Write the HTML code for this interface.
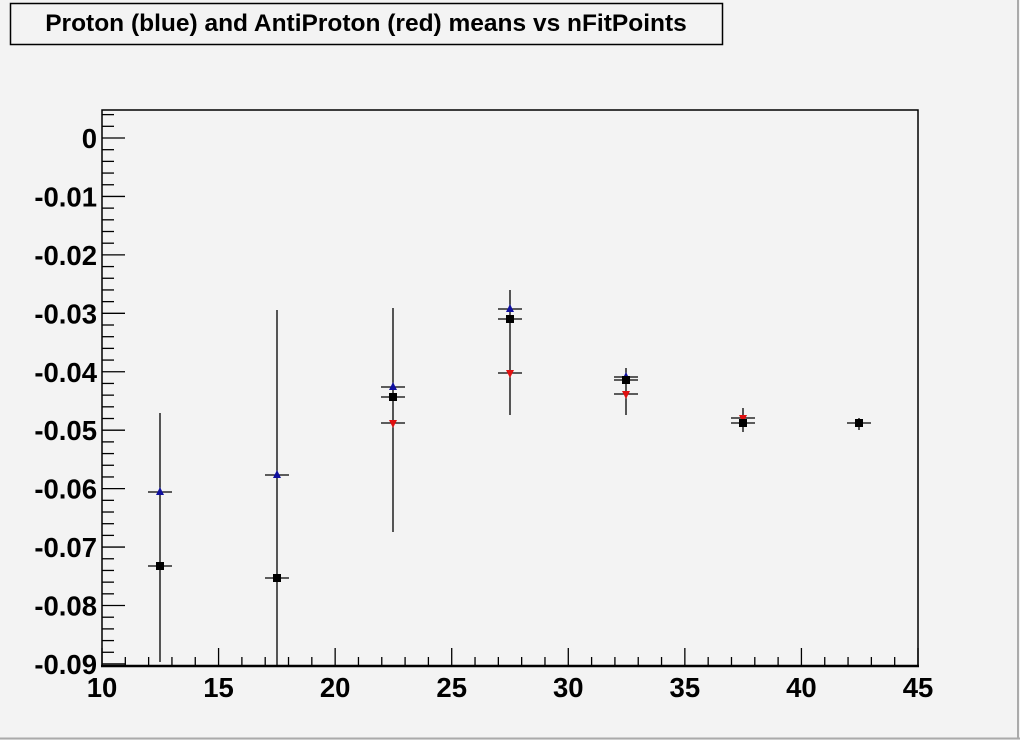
<!DOCTYPE html>
<html><head><meta charset="utf-8"><style>
html,body{margin:0;padding:0;background:#f3f3f3;}
svg{display:block;}
text{font-family:"Liberation Sans",Arial,sans-serif;font-weight:bold;}
</style></head><body>
<svg id="s" width="1020" height="740" xmlns="http://www.w3.org/2000/svg">
<rect x="0" y="0" width="1020" height="740" fill="#f3f3f3"/>
<line x1="1018" y1="0" x2="1018" y2="739" stroke="#aaa" stroke-width="2"/>
<line x1="0" y1="738.5" x2="1020" y2="738.5" stroke="#aaa" stroke-width="2"/>
<rect x="10.5" y="3.5" width="712" height="41" fill="#f3f3f3" stroke="#000" stroke-width="1.5"/>
<text x="366" y="31" font-size="24.5" text-anchor="middle">Proton (blue) and AntiProton (red) means vs nFitPoints</text>
<rect x="102" y="110" width="816" height="556" fill="none" stroke="#000" stroke-width="1.5"/>
<line x1="101" y1="666" x2="919" y2="666" stroke="#000" stroke-width="2.5"/>
<g id="ticks" stroke="#000" stroke-width="1.3"></g>
<g id="lab" font-size="27.5"></g>
<g id="data"></g>
</svg>
<script>
var NS="http://www.w3.org/2000/svg";
function el(p,t,a,txt){var e=document.createElementNS(NS,t);for(var k in a)e.setAttribute(k,a[k]);if(txt!==undefined)e.textContent=txt;document.getElementById(p).appendChild(e);return e;}
function X(v){return 102+(v-10)*816/35;}
function Y(v){return 138-v*5844;}
for(var i=10;i<=45;i++){var x=X(i);var L=(i%5==0)?18:9;el('ticks','line',{x1:x,y1:666,x2:x,y2:666-L});}
for(var i=10;i<=45;i+=5){el('lab','text',{x:X(i),y:697,'text-anchor':'middle'},String(i));}
for(var k=2;k>=-45;k--){var v=k*0.002;var y=Y(v);if(y<110||y>666.5)continue;var maj=(k%5==0);el('ticks','line',{x1:102,y1:y,x2:102+(maj?23:12),y2:y});}
var yl=["0","-0.01","-0.02","-0.03","-0.04","-0.05","-0.06","-0.07","-0.08","-0.09"];
for(var i=0;i<yl.length;i++){el('lab','text',{x:97,y:Y(-0.01*i)+10,'text-anchor':'end'},yl[i]);}
var pts=[
 [160,[[492,'b']],566,413,662],
 [277,[[475,'b']],578,310,666],
 [393,[[387,'b'],[423,'r']],397,308,532],
 [510,[[309,'b'],[373,'r']],319,290,415],
 [626,[[377,'b'],[394,'r']],380,368,415],
 [743,[[418,'r']],423,408,432],
 [859,[],423,418,430]
];
pts.forEach(function(p){
 var x=p[0];
 el('data','line',{x1:x,y1:p[3],x2:x,y2:p[4],stroke:'#000','stroke-width':1.3});
 p[1].forEach(function(m){
  var y=m[0];
  el('data','line',{x1:x-12,y1:y,x2:x+12,y2:y,stroke:'#000','stroke-width':1.3});
  if(m[1]=='b') el('data','polygon',{points:(x-4)+','+(y+3)+' '+(x+4)+','+(y+3)+' '+x+','+(y-5),fill:'#1010a0'});
  else el('data','polygon',{points:(x-4)+','+(y-3)+' '+(x+4)+','+(y-3)+' '+x+','+(y+5),fill:'#e01010'});
 });
 var y=p[2];
 el('data','line',{x1:x-12,y1:y,x2:x+12,y2:y,stroke:'#000','stroke-width':1.3});
 el('data','rect',{x:x-4,y:y-4,width:8,height:8,fill:'#000'});
});
</script>
</body></html>
